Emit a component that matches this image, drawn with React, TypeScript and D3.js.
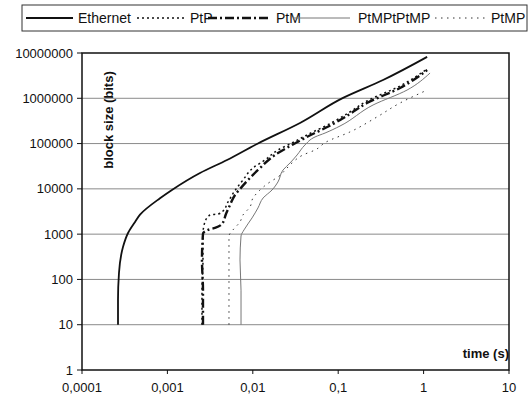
import { useEffect, useRef } from "react";
import * as d3 from "d3";

// [time (s), block size (bits)]
const ethernet: [number, number][] = [
  [0.000264, 10], [0.000264, 35], [0.000271, 139], [0.000302, 521],
  [0.000346, 1060], [0.000418, 1860], [0.000478, 2700], [0.000819, 6200],
  [0.00113, 9460], [0.00241, 22400], [0.00499, 43400], [0.0112, 98000],
  [0.0357, 285000], [0.114, 1020000], [0.335, 2530000], [1.1, 8200000],
];

const ptp: [number, number][] = [
  [0.00254, 10], [0.00254, 58], [0.00261, 269], [0.00261, 1010],
  [0.00275, 1860], [0.00316, 2650], [0.00392, 2790], [0.00436, 3080],
  [0.00513, 5130], [0.00603, 8530], [0.00767, 15700], [0.01005, 28900],
  [0.0139, 43400], [0.0197, 72100], [0.0288, 103000], [0.0408, 147000],
  [0.0869, 299000], [0.137, 498000], [0.217, 871000], [0.53, 1870000],
  [1.1, 4440000],
];

const ptm: [number, number][] = [
  [0.00261, 10], [0.00261, 58], [0.00254, 269], [0.00261, 1010],
  [0.00299, 1240], [0.00361, 1370], [0.00436, 1680], [0.00485, 2790],
  [0.00541, 4400], [0.00619, 7330], [0.00708, 9930], [0.00879, 15700],
  [0.0115, 26100], [0.0182, 56000], [0.0288, 93100], [0.0408, 133000],
  [0.0869, 270000], [0.137, 450000], [0.217, 787000], [0.53, 1690000],
  [1.1, 4200000],
];

const ptmPtpPtmp: [number, number][] = [
  [0.00728, 10], [0.00728, 58], [0.00708, 269], [0.00728, 910],
  [0.00789, 1240], [0.0098, 2280], [0.0115, 3790], [0.0132, 6280],
  [0.0168, 9440], [0.0197, 14200], [0.0226, 26100], [0.0273, 37300],
  [0.033, 56000], [0.0408, 93100], [0.0535, 140000], [0.0702, 171000],
  [0.105, 244000], [0.256, 711000], [0.64, 1520000], [1.19, 3610000],
];

const ptmp: [number, number][] = [
  [0.00526, 10], [0.00526, 58], [0.00526, 269], [0.00526, 910],
  [0.00586, 1240], [0.00708, 1860], [0.00767, 2650], [0.00927, 3980],
  [0.01005, 6280], [0.0115, 8530], [0.0159, 14200], [0.0197, 18300],
  [0.0252, 28900], [0.0296, 39200], [0.0387, 56000], [0.0535, 72100],
  [0.072, 108000], [0.137, 180000], [0.284, 386000], [0.53, 787000],
  [1.1, 1520000],
];

const xTicks = [0.0001, 0.001, 0.01, 0.1, 1, 10];
const xTickLabels = ["0,0001", "0,001", "0,01", "0,1", "1", "10"];
const yTicks = [1, 10, 100, 1000, 10000, 100000, 1000000, 10000000];

const series = [
  { name: "Ethernet", data: ethernet, stroke: "#111", width: 1.8, dash: "", lx: [26, 73], tx: 78 },
  { name: "PtP", data: ptp, stroke: "#111", width: 1.5, dash: "2,3", lx: [137, 186], tx: 190 },
  { name: "PtM", data: ptm, stroke: "#111", width: 2.4, dash: "9,3,2,3", lx: [208, 270], tx: 276 },
  { name: "PtMPtPtMP", data: ptmPtpPtmp, stroke: "#777", width: 1, dash: "", lx: [293, 350], tx: 358 },
  { name: "PtMP", data: ptmp, stroke: "#333", width: 1, dash: "1.5,4.5", lx: [435, 487], tx: 491 },
];

const font = "'Liberation Sans', Arial, sans-serif";

export default function App() {
  const svgRef = useRef<SVGSVGElement>(null);

  useEffect(() => {
    if (!svgRef.current) return;
    const svg = d3.select(svgRef.current);
    svg.selectAll("*").remove();

    const left = 82, right = 509, top = 53, bottom = 370;

    const x = d3.scaleLog().domain([0.0001, 10]).range([left, right]);
    const y = d3.scaleLog().domain([1, 10000000]).range([bottom, top]);

    svg.append("rect").attr("width", 529).attr("height", 396).attr("fill", "#fff");

    // gridlines
    svg
      .append("g")
      .selectAll("line")
      .data(yTicks.slice(1, -1))
      .join("line")
      .attr("x1", left)
      .attr("x2", right)
      .attr("y1", (d) => y(d))
      .attr("y2", (d) => y(d))
      .attr("stroke", "#8a8a8a")
      .attr("stroke-width", 1);

    // series
    const line = d3
      .line<[number, number]>()
      .x((d) => x(d[0]))
      .y((d) => y(d[1]))
      .curve(d3.curveMonotoneY);

    const order = [3, 4, 1, 2, 0];
    order.forEach((i) => {
      const s = series[i];
      svg
        .append("path")
        .datum(s.data)
        .attr("d", line)
        .attr("fill", "none")
        .attr("stroke", s.stroke)
        .attr("stroke-width", s.width)
        .attr("stroke-dasharray", s.dash || null)
        .attr("stroke-linejoin", "round");
    });

    // frame
    svg
      .append("rect")
      .attr("x", left)
      .attr("y", top)
      .attr("width", right - left)
      .attr("height", bottom - top)
      .attr("fill", "none")
      .attr("stroke", "#111")
      .attr("stroke-width", 1.5);

    // y axis ticks + labels
    const yg = svg.append("g");
    yg.selectAll("line")
      .data(yTicks)
      .join("line")
      .attr("x1", left - 5)
      .attr("x2", left)
      .attr("y1", (d) => y(d))
      .attr("y2", (d) => y(d))
      .attr("stroke", "#111");
    yg.selectAll("text")
      .data(yTicks)
      .join("text")
      .attr("x", left - 9)
      .attr("y", (d) => y(d))
      .attr("dy", "0.35em")
      .attr("text-anchor", "end")
      .attr("font-family", font)
      .attr("font-size", 13)
      .attr("fill", "#111")
      .text((d) => String(d));

    // x axis ticks + labels
    const xg = svg.append("g");
    xg.selectAll("line")
      .data(xTicks)
      .join("line")
      .attr("x1", (d) => x(d))
      .attr("x2", (d) => x(d))
      .attr("y1", bottom)
      .attr("y2", bottom + 4)
      .attr("stroke", "#111");
    xg.selectAll("text")
      .data(xTicks)
      .join("text")
      .attr("x", (d) => x(d))
      .attr("y", bottom + 22)
      .attr("text-anchor", "middle")
      .attr("font-family", font)
      .attr("font-size", 13)
      .attr("fill", "#111")
      .text((_, i) => xTickLabels[i]);

    // axis titles
    svg
      .append("text")
      .attr("transform", `translate(113,120) rotate(-90)`)
      .attr("text-anchor", "middle")
      .attr("font-family", font)
      .attr("font-weight", "bold")
      .attr("font-size", 13)
      .attr("fill", "#111")
      .text("block size (bits)");

    svg
      .append("text")
      .attr("x", right)
      .attr("y", bottom - 12)
      .attr("text-anchor", "end")
      .attr("font-family", font)
      .attr("font-weight", "bold")
      .attr("font-size", 13)
      .attr("fill", "#111")
      .text("time (s)");

    // legend
    const lg = svg.append("g");
    lg.append("rect")
      .attr("x", 22)
      .attr("y", 5)
      .attr("width", 505)
      .attr("height", 26)
      .attr("fill", "#fff")
      .attr("stroke", "#333")
      .attr("stroke-width", 1);
    series.forEach((s) => {
      lg.append("line")
        .attr("x1", s.lx[0])
        .attr("x2", s.lx[1])
        .attr("y1", 18)
        .attr("y2", 18)
        .attr("stroke", s.stroke)
        .attr("stroke-width", s.width)
        .attr("stroke-dasharray", s.dash || null);
      lg.append("text")
        .attr("x", s.tx)
        .attr("y", 18)
        .attr("dy", "0.35em")
        .attr("font-family", font)
        .attr("font-size", 14)
        .attr("fill", "#111")
        .text(s.name);
    });
  }, []);

  return (
    <svg
      ref={svgRef}
      width={529}
      height={396}
      style={{ position: "absolute", left: 0, top: 0 }}
    />
  );
}
